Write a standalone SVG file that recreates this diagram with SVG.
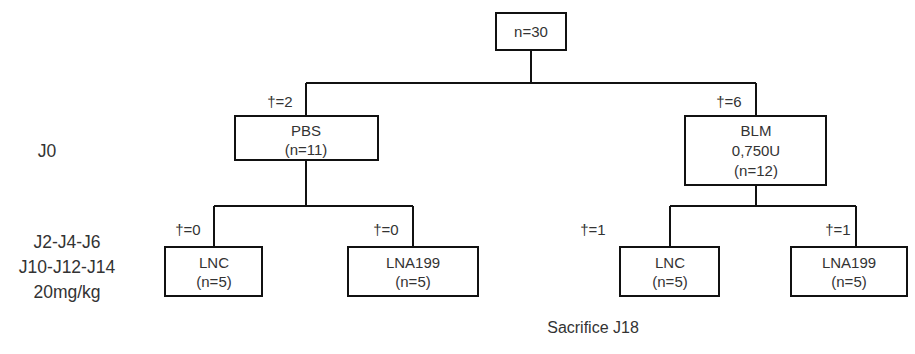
<svg xmlns="http://www.w3.org/2000/svg" width="915" height="354" viewBox="0 0 915 354">
<style>
.box{fill:#fff;stroke:#111;stroke-width:2}
.ln{fill:none;stroke:#111;stroke-width:2}
text{font-family:"Liberation Sans",Arial,sans-serif;fill:#333}
.t{font-size:15px;text-anchor:middle}
.d{font-size:15px;text-anchor:middle}
.s{font-size:17.5px;text-anchor:middle}
.f{font-size:16px;text-anchor:middle}
</style>
<rect width="915" height="354" fill="#fff"/>
<g id="connectors">
<path class="ln" d="M531,50 V83 M306,83 H756 M306,83 V116 M756,83 V116"/>
<path class="ln" d="M306,160 V206 M214,206 H413 M214,206 V247 M413,206 V247"/>
<path class="ln" d="M756,185 V206 M670,206 H856 M670,206 V247 M856,206 V247"/>
</g>
<g id="n30"><rect class="box" x="496" y="13" width="70" height="37"/><text class="t" x="531" y="37">n=30</text></g>
<g id="pbs"><rect class="box" x="235" y="116" width="143" height="44"/><text class="t" x="306" y="136">PBS</text><text class="t" x="306" y="155">(n=11)</text></g>
<g id="blm"><rect class="box" x="685" y="116" width="141" height="69"/><text class="t" x="756" y="136">BLM</text><text class="t" x="756" y="156">0,750U</text><text class="t" x="756" y="176">(n=12)</text></g>
<g id="lnc1"><rect class="box" x="165" y="247" width="97" height="49"/><text class="t" x="214" y="268">LNC</text><text class="t" x="214" y="287">(n=5)</text></g>
<g id="lna1"><rect class="box" x="348" y="247" width="130" height="49"/><text class="t" x="413" y="268">LNA199</text><text class="t" x="413" y="287">(n=5)</text></g>
<g id="lnc2"><rect class="box" x="620" y="247" width="99" height="49"/><text class="t" x="670" y="268">LNC</text><text class="t" x="670" y="287">(n=5)</text></g>
<g id="lna2"><rect class="box" x="791" y="247" width="116" height="49"/><text class="t" x="849" y="268">LNA199</text><text class="t" x="849" y="287">(n=5)</text></g>
<g id="deaths">
<text class="d" x="280" y="107">†=2</text>
<text class="d" x="729" y="107">†=6</text>
<text class="d" x="188" y="235">†=0</text>
<text class="d" x="386" y="235">†=0</text>
<text class="d" x="593" y="235">†=1</text>
<text class="d" x="838" y="235">†=1</text>
</g>
<g id="labels">
<text class="s" x="47" y="157">J0</text>
<text class="s" x="67" y="248">J2-J4-J6</text>
<text class="s" x="67" y="273">J10-J12-J14</text>
<text class="s" x="67" y="298">20mg/kg</text>
<text class="f" x="593" y="333">Sacrifice J18</text>
</g>
</svg>
